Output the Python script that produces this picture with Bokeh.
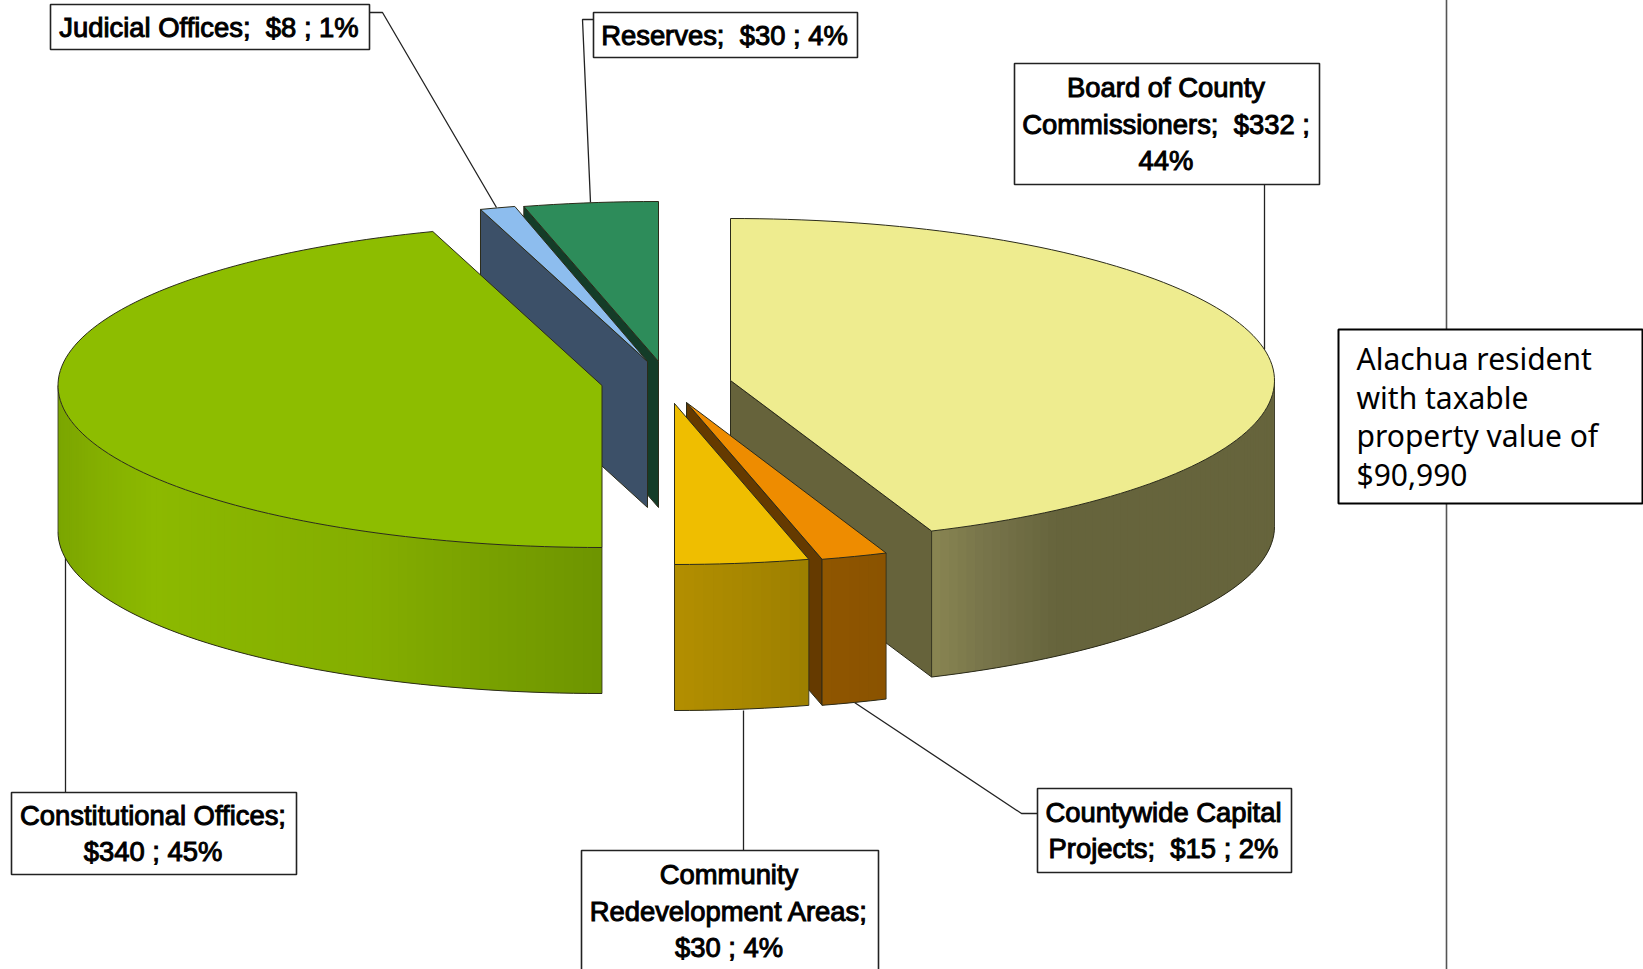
import math
from bokeh.plotting import figure
from bokeh.embed import file_html
from bokeh.resources import INLINE
from bokeh.core.properties import value

# ---- data ----
categories = ["Board of County Commissioners", "Countywide Capital Projects",
              "Community Redevelopment Areas", "Constitutional Offices",
              "Judicial Offices", "Reserves"]
amounts = [332, 15, 30, 340, 8, 30]
percents = [44, 2, 4, 45, 1, 4]
top_colors = ["#eeec8f", "#ee8c00", "#efbe00", "#8dbd00", "#8dbdee", "#2d8c5a"]
cut_colors = ["#66633b", "#653a00", "#9c7f00", "#6e9400", "#3c5068", "#143c28"]
wall_stops = [
    [(90, "#66643c"), (143, "#66643c"), (152, "#77744a"), (158.4, "#8a8652")],
    [(158, "#8a5300"), (166, "#905600")],
    [(165, "#9c7f00"), (180, "#b38f00")],
    [(180, "#6e9400"), (205, "#84ae00"), (235, "#8cb900"), (255, "#7fa900"), (270, "#78a500")],
    [(340, "#3c5068"), (346, "#3c5068")],
    [(345, "#143c28"), (360, "#143c28")],
]

# ---- layout: exploded slice geometry (pixels) ----
apex_x = [730, 686, 674, 601.5, 647, 658]
apex_y = [380, 402, 403, 385, 361, 361]
rad_x = [544, 540, 535, 544, 537, 545]
rad_y = [162, 162, 161, 162, 160, 160]
DEPTH = 146
W, H = 1643, 969
PAD = 8

total = sum(amounts)
edges = [0.0]
for a in amounts:
    edges.append(edges[-1] + a / total * 360.0)
# the cut between the two largest groups is drawn straight towards the viewer
edges = [180.0 if abs(e - 180.0) < 0.5 else e for e in edges]


def pt(i, theta, dy=0.0):
    t = math.radians(theta)
    return (apex_x[i] + rad_x[i] * math.sin(t),
            apex_y[i] - rad_y[i] * math.cos(t) + dy)


def hexrgb(c):
    return tuple(int(c[k:k + 2], 16) for k in (1, 3, 5))


def grad(stops, th):
    if th <= stops[0][0]:
        return stops[0][1]
    for (a, ca), (b, cb) in zip(stops, stops[1:]):
        if a <= th <= b:
            f = (th - a) / (b - a)
            x, y = hexrgb(ca), hexrgb(cb)
            return "#%02x%02x%02x" % tuple(round(x[k] + (y[k] - x[k]) * f) for k in range(3))
    return stops[-1][1]


p = figure(width=W + PAD, height=H + PAD, x_range=(-PAD, W), y_range=(H, -PAD),
           output_backend="svg", toolbar_location=None, min_border=0,
           outline_line_color=None, margin=(-PAD, -PAD, -PAD, -PAD))
p.axis.visible = False
p.grid.visible = False

OUT = "#2b2b1a"


def arc(i, a, b, dy=0.0):
    n = max(2, int(abs(b - a) / 1.5) + 1)
    return [pt(i, a + (b - a) * k / (n - 1), dy) for k in range(n)]


def poly(points, fill, line=OUT, w=1.0):
    p.patch([q[0] for q in points], [q[1] for q in points], fill_color=fill,
            line_color=line, line_width=w)


def draw_slice(i):
    a, b = edges[i], edges[i + 1]
    ax, ay = apex_x[i], apex_y[i]
    # cut face on the edge that faces the viewer's left
    mid = (a + b) / 2
    face = b if mid < 180 else a
    if i != 3:
        q = pt(i, face)
        poly([(ax, ay), q, (q[0], q[1] + DEPTH), (ax, ay + DEPTH)], cut_colors[i])
    # outer wall, visible on the front half only
    lo, hi = max(a, 90), min(b, 270)
    if hi > lo:
        n = max(2, int((hi - lo) / 1.0) + 1)
        ths = [lo + (hi - lo) * k / (n - 1) for k in range(n)]
        for t0, t1 in zip(ths, ths[1:]):
            c = grad(wall_stops[i], (t0 + t1) / 2)
            t2 = min(hi, t1 + 1.0)
            s = arc(i, t0, t2) + arc(i, t2, t0, DEPTH)
            p.patch([q[0] for q in s], [q[1] for q in s], fill_color=c, line_color=None)
        low = arc(i, lo, hi, DEPTH)
        p.line([q[0] for q in low], [q[1] for q in low], line_color=OUT, line_width=1)
        for t in (lo, hi):
            u = pt(i, t)
            p.line([u[0], u[0]], [u[1], u[1] + DEPTH], line_color=OUT, line_width=0.8)
    # top
    poly([(ax, ay)] + arc(i, a, b), top_colors[i])


# vertical rule behind the note box
p.line([1446, 1446], [-PAD, H], line_color="#555555", line_width=1.6)

# leader lines
leaders = [
    ([369, 382, 496], [12, 12, 207]),
    ([593, 582, 590], [19, 19, 202]),
    ([1264, 1264], [184, 349]),
    ([65, 65], [792, 552]),
    ([743, 743], [850, 710]),
    ([1037, 1021, 854], [813, 813, 702]),
]
for xs, ys in leaders:
    p.line(xs, ys, line_color="#222222", line_width=1.3)

for i in [5, 4, 0, 1, 2, 3]:
    draw_slice(i)

# label boxes: left, right, top, bottom, text shift up
boxes = [
    (1014, 1319, 63, 184, 0), (1037, 1291, 788, 872, 0), (581, 878, 850, 975, 2),
    (11, 296, 792, 874, 0), (50, 369, 4, 49, 0), (593, 857, 12, 57, 0),
]
label_lines = [
    ["Board of County", "Commissioners;\u00a0 $332 ;", "44%"],
    ["Countywide Capital", "Projects;\u00a0 $15 ; 2%"],
    ["Community", "Redevelopment Areas;", "$30 ; 4%"],
    ["Constitutional Offices;", "$340 ; 45%"],
    ["Judicial Offices;\u00a0 $8 ; 1%"],
    ["Reserves;\u00a0 $30 ; 4%"],
]
LEAD = 36.6
for (x0, x1, y0, y1, up), lines in zip(boxes, label_lines):
    p.quad(left=[x0], right=[x1], top=[y0], bottom=[y1], fill_color="white",
           line_color="#222222", line_width=1.6)
    cy = (y0 + y1) / 2 - up
    for k, s in enumerate(lines):
        p.text([(x0 + x1) / 2 - 1], [cy + (k - (len(lines) - 1) / 2) * LEAD], text=[s],
               text_align="center", text_baseline="middle", text_color="black",
               text_font=value("Liberation Sans"), text_font_size="27.4px",
               text_outline_color="black")

# note box
p.quad(left=[1338], right=[1642], top=[329], bottom=[503], fill_color="white",
       line_color="black", line_width=2)
note_lines = ["Alachua resident", "with taxable", "property value of", "$90,990"]
for k, s in enumerate(note_lines):
    p.text([1356], [358 + k * 38.6], text=[s], text_align="left", text_baseline="middle",
           text_color="black", text_font=value("Noto Sans"), text_font_size="30px")

open("out.html", "w").write(file_html(p, INLINE))
